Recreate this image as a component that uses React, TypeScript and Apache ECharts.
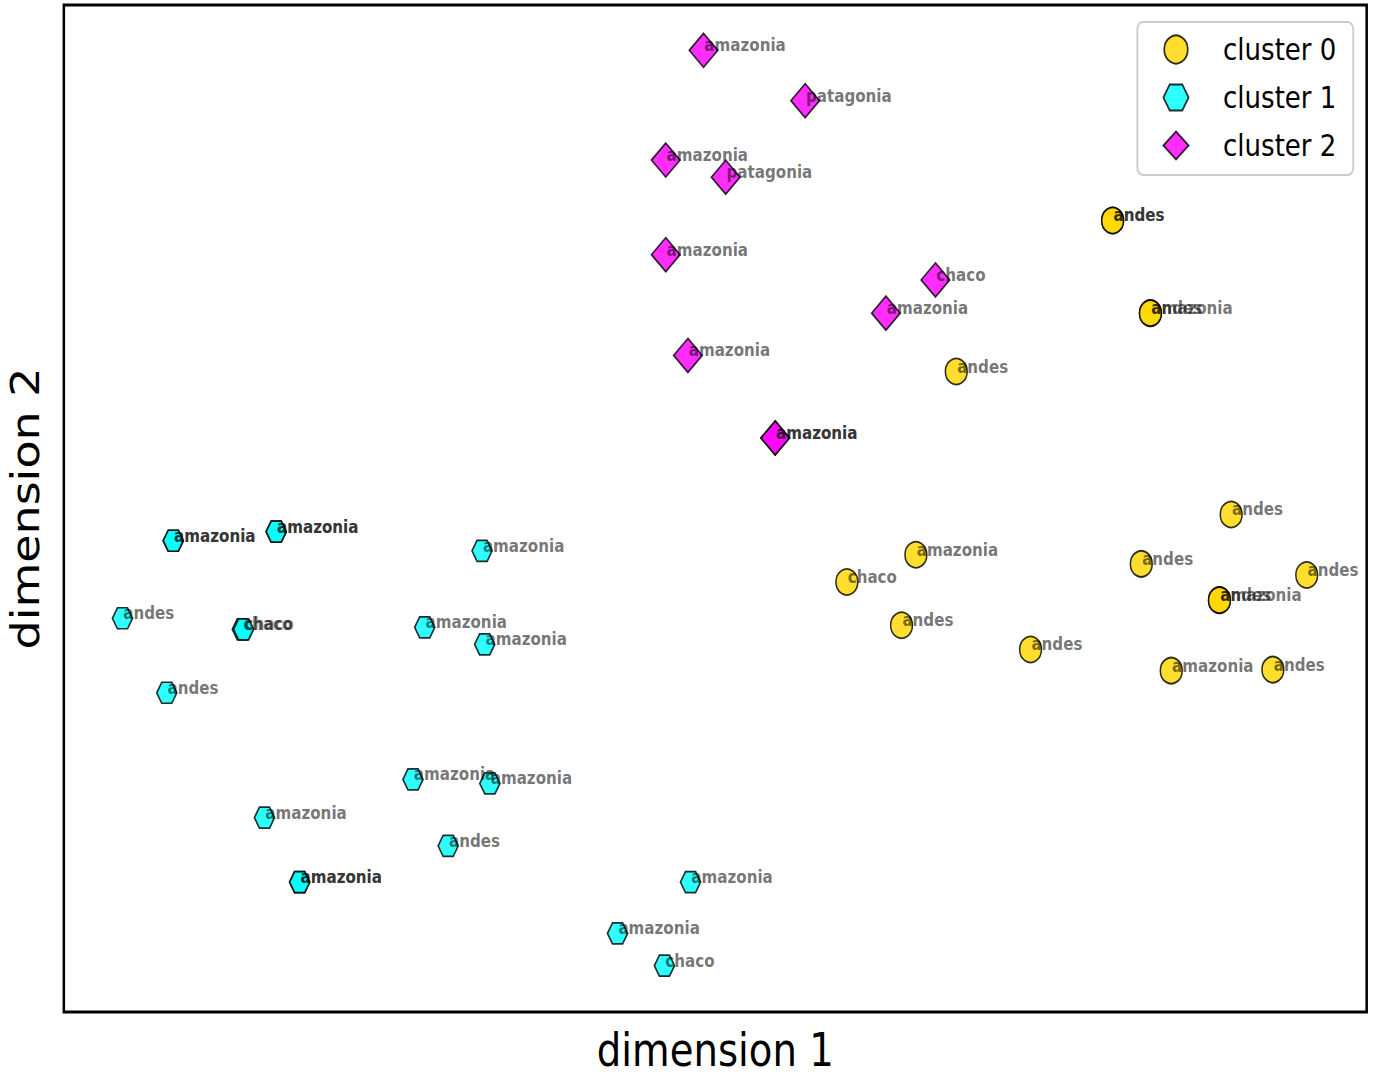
import React, { useEffect, useRef } from "react";
import * as echarts from "echarts";

// Cluster names shown in the legend
const clusterNames = ["cluster 0", "cluster 1", "cluster 2"];

// Cluster 0 (embedding coordinates, region labels)
const cluster0X = [80.5, 80.5, 83.4, 83.4, 68.5, 89.6, 65.4, 82.7, 60.1, 95.4, 88.7, 88.7, 64.3, 74.2, 85.0, 92.8];
const cluster0Y = [78.6, 78.6, 69.4, 69.4, 63.6, 49.4, 45.4, 44.5, 42.7, 43.4, 40.9, 40.9, 38.4, 36.0, 33.9, 34.0];
const cluster0Labels = [
  "andes", "andes", "amazonia", "andes", "andes", "andes", "amazonia", "andes",
  "chaco", "andes", "amazonia", "andes", "andes", "andes", "amazonia", "andes",
];

// Cluster 1
const cluster1X = [8.4, 8.4, 16.3, 16.3, 32.1, 4.5, 13.7, 13.8, 27.7, 32.3, 7.9, 26.8, 32.7, 15.4, 29.5, 18.1, 18.1, 48.1, 42.5, 46.1];
const cluster1Y = [46.8, 46.8, 47.7, 47.7, 45.8, 39.1, 38.0, 38.0, 38.2, 36.5, 31.7, 23.1, 22.7, 19.3, 16.5, 12.9, 12.9, 12.9, 7.8, 4.6];
const cluster1Labels = [
  "amazonia", "amazonia", "amazonia", "amazonia", "amazonia", "andes", "chaco", "chaco",
  "amazonia", "amazonia", "andes", "amazonia", "amazonia", "amazonia", "andes", "amazonia",
  "amazonia", "amazonia", "amazonia", "chaco",
];

// Cluster 2
const cluster2X = [49.1, 56.9, 46.2, 50.8, 46.2, 66.9, 63.1, 47.9, 54.6, 54.6];
const cluster2Y = [95.5, 90.5, 84.6, 82.9, 75.2, 72.7, 69.4, 65.2, 57.0, 57.0];
const cluster2Labels = [
  "amazonia", "patagonia", "amazonia", "patagonia", "amazonia", "chaco",
  "amazonia", "amazonia", "amazonia", "amazonia",
];

const HEXAGON = "path://M0,433 L250,0 L750,0 L1000,433 L750,866 L250,866 Z";
const FONT = "'DejaVu Sans', sans-serif";

function toPoints(xs: number[], ys: number[], labels: string[]) {
  return xs.map((x, i) => ({ value: [x, ys[i]], name: labels[i] }));
}

const pointLabel = {
  show: true,
  position: "inside",
  align: "left",
  verticalAlign: "middle",
  offset: [1, -5],
  formatter: "{b}",
  color: "rgba(0,0,0,0.68)",
  fontFamily: FONT,
  fontWeight: "bold",
  fontSize: 18,
  textBorderWidth: 0,
};

function makeSeries(
  name: string,
  xs: number[],
  ys: number[],
  labels: string[],
  symbol: string,
  symbolSize: number | number[],
  color: string
) {
  return {
    name,
    type: "scatter",
    symbol,
    symbolSize,
    data: toPoints(xs, ys, labels),
    itemStyle: {
      color,
      borderColor: "#000",
      borderWidth: 1.8,
      opacity: 0.82,
    },
    label: pointLabel,
    emphasis: { disabled: true },
  };
}

export default function App() {
  const ref = useRef<HTMLDivElement>(null);

  useEffect(() => {
    if (!ref.current) return;
    const chart = echarts.init(ref.current, null, { renderer: "svg" });
    chart.setOption({
      animation: false,
      backgroundColor: "#fff",
      grid: {
        left: 76,
        top: 5,
        width: 1551,
        height: 1015,
        show: true,
        borderColor: "#000",
        borderWidth: 3,
        backgroundColor: "transparent",
      },
      xAxis: {
        type: "value",
        min: 0,
        max: 100,
        axisLine: { show: false },
        axisTick: { show: false },
        axisLabel: { show: false },
        splitLine: { show: false },
        name: "dimension 1",
        nameLocation: "middle",
        nameGap: 15,
        nameTextStyle: { fontSize: 46, fontFamily: FONT, color: "#000", verticalAlign: "top" },
      },
      yAxis: {
        type: "value",
        min: 0,
        max: 100,
        axisLine: { show: false },
        axisTick: { show: false },
        axisLabel: { show: false },
        splitLine: { show: false },
        name: "dimension 2",
        nameLocation: "middle",
        nameRotate: 90,
        nameGap: 22,
        nameTextStyle: { fontSize: 46, fontFamily: FONT, color: "#000" },
      },
      legend: {
        data: clusterNames,
        orient: "vertical",
        left: 1354,
        top: 22,
        padding: [12, 20, 14, 30],
        itemWidth: 30,
        itemHeight: 28,
        itemGap: 17,
        borderColor: "#cccccc",
        borderWidth: 2.2,
        borderRadius: 7,
        backgroundColor: "#fff",
        textStyle: { fontSize: 31, fontFamily: FONT, color: "#000", padding: [0, 0, 0, 36] },
      },
      series: [
        makeSeries(clusterNames[0], cluster0X, cluster0Y, cluster0Labels, "circle", 26, "#FFD700"),
        makeSeries(clusterNames[1], cluster1X, cluster1Y, cluster1Labels, HEXAGON, [24, 21], "#00FFFF"),
        makeSeries(clusterNames[2], cluster2X, cluster2Y, cluster2Labels, "diamond", 34, "#FF00FF"),
      ],
    });
    return () => chart.dispose();
  }, []);

  return (
    <div
      style={{
        position: "fixed",
        left: 0,
        top: 0,
        width: 1376,
        height: 1078,
        overflow: "hidden",
        background: "#fff",
      }}
    >
      <div
        ref={ref}
        style={{ width: 1638, height: 1078, transform: "scaleX(0.84)", transformOrigin: "0 0" }}
      />
    </div>
  );
}
